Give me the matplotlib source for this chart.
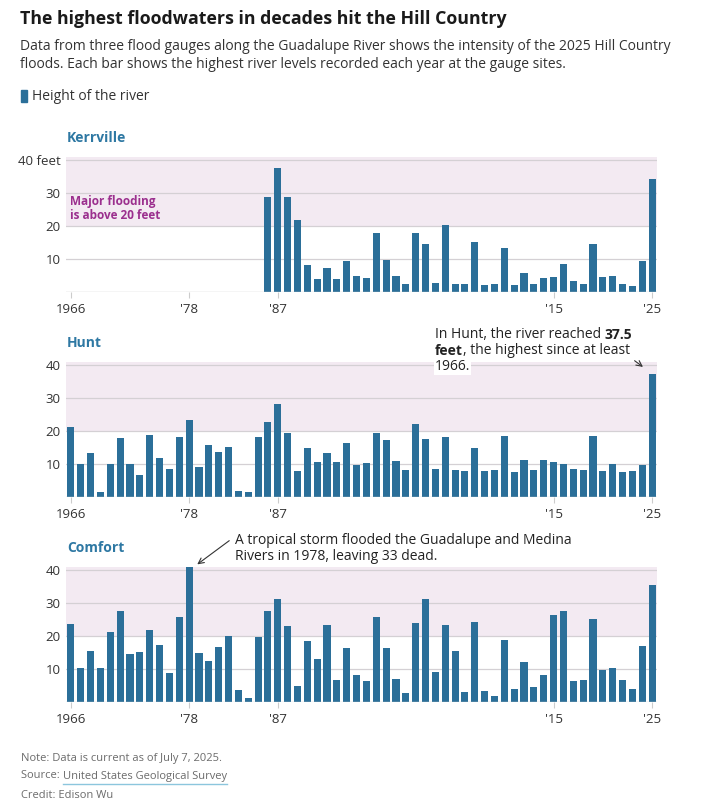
import numpy as np
import matplotlib
matplotlib.use("Agg")
import matplotlib.pyplot as plt

plt.rcParams["font.family"] = ["Open Sans", "DejaVu Sans"]

# Highest river level each year, feet
years = list(range(1966, 2026))

kerrville_years = list(range(1986, 2026))
kerrville = [28.8, 37.7, 28.8, 21.9, 8.2, 4.0, 7.4, 4.0, 9.4, 4.9,
             4.3, 17.9, 9.8, 4.9, 2.3, 17.9, 14.6, 2.8, 20.5, 2.5,
             2.3, 15.3, 2.1, 2.5, 13.4, 2.1, 5.8, 2.3, 4.3, 4.7,
             8.4, 3.3, 2.5, 14.6, 4.5, 4.9, 2.3, 1.7, 9.4, 34.3]

hunt = [21.2, 10.0, 13.4, 1.6, 9.9, 17.8, 9.9, 6.8, 18.7, 11.8,
        8.5, 18.3, 23.5, 9.1, 15.9, 13.8, 15.1, 1.9, 1.4, 18.3,
        22.8, 28.3, 19.3, 8.0, 15.0, 10.5, 13.4, 10.5, 16.4, 9.6,
        10.2, 19.5, 17.3, 11.0, 8.3, 22.2, 17.6, 8.5, 18.1, 8.1,
        7.8, 15.0, 7.8, 8.3, 18.4, 7.6, 11.3, 8.1, 11.1, 10.6,
        10.0, 8.6, 8.3, 18.4, 7.8, 9.9, 7.6, 7.8, 9.6, 37.5]

comfort = [23.8, 10.4, 15.5, 10.4, 21.2, 27.5, 14.5, 15.1, 21.9, 17.3,
           8.8, 25.7, 40.9, 14.9, 12.6, 16.7, 20.1, 3.6, 1.3, 19.6,
           27.5, 31.3, 23.1, 5.0, 18.4, 13.0, 23.3, 6.7, 16.3, 8.1,
           6.5, 25.7, 16.5, 7.1, 2.8, 24.0, 31.3, 9.0, 23.4, 15.5,
           3.1, 24.3, 3.3, 1.8, 18.9, 4.0, 12.3, 4.5, 8.1, 26.4,
           27.7, 6.5, 6.7, 25.2, 9.7, 10.4, 6.7, 4.0, 16.9, 35.5]

tick_years = [1966, 1978, 1987, 2015, 2025]
tick_labels = ["1966", "'78", "'87", "'15", "'25"]

BAR = "#2b6f99"
BAND = "#f3eaf2"
GRID = "#d4d0d4"
TEXT = "#333333"
NAME = "#2e78a3"
PURPLE = "#9b2f8e"

fig = plt.figure(figsize=(7.2, 8.02), dpi=100)
W, H = 720, 802


def fx(px):
    return px / W


def fy(py):
    return 1 - py / H


def panel(bottom_px, name, xs, vals, first_label):
    ax = fig.add_axes([fx(66), fy(bottom_px), fx(591), 135 / H])
    ax.axhspan(20, 41, color=BAND, zorder=0, lw=0)
    for v in [10, 20, 30, 40]:
        ax.axhline(v, color=GRID, lw=0.9, zorder=1)
    ax.bar(xs, vals, width=0.72, color=BAR, zorder=2)
    ax.axhline(0, color="#cccccc", lw=1, zorder=3)
    ax.set_xlim(1965.5, 2025.5)
    ax.set_ylim(0, 41)
    ax.set_yticks([10, 20, 30, 40])
    ax.set_yticklabels(["10", "20", "30", first_label])
    ax.set_xticks(tick_years)
    ax.set_xticklabels(tick_labels)
    ax.tick_params(axis="y", length=0, pad=4, labelsize=9.5, labelcolor=TEXT)
    ax.tick_params(axis="x", length=4, color="#cccccc", pad=4,
                   labelsize=9.5, labelcolor=TEXT)
    for s in ax.spines.values():
        s.set_visible(False)
    fig.text(fx(67), fy(bottom_px - 154), name, fontsize=10, fontweight="bold",
             color=NAME, va="center")
    return ax


ax_k = panel(292, "Kerrville", kerrville_years, kerrville, "40 feet")
ax_h = panel(497, "Hunt", years, hunt, "40")
ax_c = panel(702, "Comfort", years, comfort, "40")

# header
fig.text(fx(20), fy(19), "The highest floodwaters in decades hit the Hill Country",
         fontsize=12.8, fontweight="bold", color="#1a1a1a", va="center")
fig.text(fx(20), fy(47), "Data from three flood gauges along the Guadalupe River "
         "shows the intensity of the 2025 Hill Country", fontsize=10,
         color=TEXT, va="center")
fig.text(fx(20), fy(65), "floods. Each bar shows the highest river levels "
         "recorded each year at the gauge sites.", fontsize=10,
         color=TEXT, va="center")
fig.patches.append(plt.Rectangle((fx(21), fy(102)), fx(6), 12 / H,
                                 color=BAR, transform=fig.transFigure))
fig.text(fx(32), fy(96), "Height of the river", fontsize=10, color=TEXT,
         va="center")

# Kerrville note
ax_k.text(1965.9, 25.5, "Major flooding\nis above 20 feet", fontsize=8.5,
          fontweight="bold", color=PURPLE, va="center", linespacing=1.1)

# Hunt note with a bold part
renderer = fig.canvas.get_renderer()


def run_line(x_px, y_px, parts):
    x = x_px
    for txt, w in parts:
        t = fig.text(fx(x), fy(y_px), txt, fontsize=10, fontweight=w,
                     color="#222222", va="center")
        bb = t.get_window_extent(renderer)
        x += bb.width
    return x


run_line(435, 335, [("In Hunt, the river reached ", "normal"), ("37.5", "bold")])
run_line(435, 351, [("feet", "bold"), (", the highest since at least", "normal")])
fig.text(fx(435), fy(367), "1966.", fontsize=10, color="#222222", va="center",
         bbox=dict(facecolor="white", edgecolor="none", pad=0.5))
ax_h.annotate("", xy=(2024.3, 39.0), xytext=(2023.0, 41.9),
              arrowprops=dict(arrowstyle="->", color="#333333", lw=0.8),
              annotation_clip=False)

# Comfort note
fig.text(fx(235), fy(541), "A tropical storm flooded the Guadalupe and Medina",
         fontsize=10, color="#222222", va="center")
fig.text(fx(235), fy(557), "Rivers in 1978, leaving 33 dead.",
         fontsize=10, color="#222222", va="center")
ax_c.annotate("", xy=(1978.6, 41.3), xytext=(1982.3, 49.5),
              arrowprops=dict(arrowstyle="->", color="#333333", lw=0.8),
              annotation_clip=False)

# footer
GRAY = "#6b6b6b"
fig.text(fx(21), fy(758), "Note: Data is current as of July 7, 2025.",
         fontsize=8, color=GRAY, va="center")
t = fig.text(fx(21), fy(776), "Source: ", fontsize=8, color=GRAY, va="center")
x0 = 21 + t.get_window_extent(renderer).width
t2 = fig.text(fx(x0), fy(776), "United States Geological Survey", fontsize=8,
              color=GRAY, va="center")
w2 = t2.get_window_extent(renderer).width
fig.lines.append(plt.Line2D([fx(x0), fx(x0 + w2)], [fy(784), fy(784)],
                            color="#8cc6dd", lw=1, transform=fig.transFigure))
fig.text(fx(21), fy(795), "Credit: Edison Wu", fontsize=8, color=GRAY,
         va="center")

fig.savefig("out.png", dpi=100)
